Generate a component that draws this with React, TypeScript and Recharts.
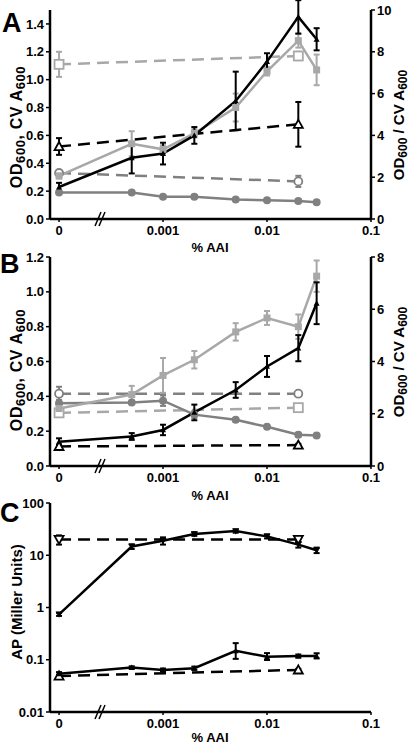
import React from "react"
import { LineChart, Line, XAxis, YAxis, ErrorBar, ReferenceDot } from "recharts"

// x values (% AAI); 0 is drawn one decade below 0.001
const conc = [0, 0.0005, 0.001, 0.002, 0.005, 0.01, 0.02, 0.03]
const ctrlConc = [0, 0.02]
const xTicks = [0, 0.001, 0.01, 0.1]
const xTickLabels = ["0", "0.001", "0.01", "0.1"]

// panel A
const aCv = [0.31, 0.54, 0.5, 0.615, 0.8, 1.06, 1.28, 1.07]
const aCvErr = [0.02, 0.09, 0.03, 0.03, 0.1, 0.03, 0.05, 0.11]
const aOd = [0.19, 0.19, 0.16, 0.16, 0.14, 0.135, 0.13, 0.12]
const aOdErr = [0.01, 0.01, 0.01, 0.01, 0.01, 0.01, 0.01, 0.01]
const aRatio = [1.53, 2.93, 3.13, 4.0, 5.65, 7.53, 9.67, 8.6]
const aRatioErr = [0.2, 0.75, 0.52, 0.4, 1.4, 0.4, 0.8, 0.53]
const aCtrlCv = [1.11, 1.17]
const aCtrlCvErr = [0.09, 0.03]
const aCtrlOd = [0.33, 0.27]
const aCtrlOdErr = [0.02, 0.04]
const aCtrlRatio = [3.47, 4.53]
const aCtrlRatioErr = [0.4, 1.07]

// panel B
const bCv = [0.33, 0.41, 0.52, 0.61, 0.77, 0.85, 0.8, 1.09]
const bCvErr = [0.02, 0.05, 0.1, 0.05, 0.05, 0.04, 0.07, 0.09]
const bOd = [0.36, 0.365, 0.375, 0.295, 0.265, 0.225, 0.18, 0.175]
const bOdErr = [0.02, 0.01, 0.03, 0.02, 0.01, 0.01, 0.01, 0.01]
const bRatio = [0.93, 1.13, 1.38, 2.05, 2.91, 3.81, 4.51, 6.23]
const bRatioErr = [0.13, 0.13, 0.2, 0.3, 0.3, 0.4, 0.5, 0.8]
const bCtrlOd = [0.415, 0.415]
const bCtrlOdErr = [0.04, 0.01]
const bCtrlCv = [0.305, 0.335]
const bCtrlCvErr = [0.01, 0.01]
const bCtrlRatio = [0.75, 0.8]
const bCtrlRatioErr = [0.05, 0.05]

// panel C (AP, Miller units) - errors as [below, above]
const cHigh = [0.74, 14.7, 19.0, 25.5, 29, 23, 16, 12.5]
const cHighErr = [[0.05, 0.05], [1.5, 1.5], [3, 3], [2, 2], [2, 2], [2, 2], [2, 2], [1.5, 1.5]]
const cHighCtrl = [20, 20]
const cHighCtrlErr = [[4, 4], [2, 2]]
const cLow = [0.054, 0.071, 0.064, 0.069, 0.148, 0.114, 0.118, 0.118]
const cLowErr = [[0.004, 0.004], [0.004, 0.004], [0.004, 0.004], [0.005, 0.005], [0.044, 0.06], [0.015, 0.02], [0.008, 0.008], [0.012, 0.015]]
const cLowCtrl = [0.049, 0.064]
const cLowCtrlErr = [[0.003, 0.003], [0.003, 0.003]]

const LIGHT = "#a8a8a8"
const DARK = "#808080"
const BLACK = "#000"
const FONT = "'Liberation Sans', Arial, sans-serif"
const BREAK_AT = -3.606

const xPos = (c: number) => (c === 0 ? -4 : Math.log10(c))
const xTickPos = xTicks.map(xPos)
const xFmt = (v: number) => {
  let best = 0
  xTickPos.forEach((p, i) => {
    if (Math.abs(p - v) < Math.abs(xTickPos[best] - v)) best = i
  })
  return xTickLabels[best]
}

const rows = (xs: number[], ys: number[], es: any[]) =>
  xs.map((c, i) => ({ x: xPos(c), y: ys[i], e: es[i] }))

type Kind = "square" | "circle" | "tri" | "triDown"

const makeDot = (kind: Kind, color: string, open: boolean, size: number) => (p: any) => {
  const { cx, cy, index } = p
  if (cx == null || cy == null) return <g key={index} />
  const fill = open ? "#fff" : color
  const sw = open ? 1.8 : 0
  const h = size / 2
  let el
  if (kind === "square") el = <rect x={cx - h} y={cy - h} width={size} height={size} />
  else if (kind === "circle") el = <circle cx={cx} cy={cy} r={h} />
  else if (kind === "tri")
    el = <polygon points={`${cx},${cy - h} ${cx + h},${cy + h * 0.8} ${cx - h},${cy + h * 0.8}`} />
  else el = <polygon points={`${cx},${cy + h} ${cx + h},${cy - h * 0.8} ${cx - h},${cy - h * 0.8}`} />
  return (
    <g key={index} fill={fill} stroke={color} strokeWidth={sw}>
      {el}
    </g>
  )
}

const series = (
  key: string,
  data: any[],
  axis: string,
  color: string,
  dashed: boolean,
  kind: Kind,
  open: boolean,
  size: number
) => (
  <Line
    key={key}
    data={data}
    dataKey="y"
    yAxisId={axis}
    stroke={color}
    strokeWidth={2.5}
    strokeDasharray={dashed ? "12 7" : undefined}
    dot={makeDot(kind, color, open, size)}
    activeDot={false}
    isAnimationActive={false}
  >
    <ErrorBar dataKey="e" width={3} strokeWidth={2} stroke={color} isAnimationActive={false} />
  </Line>
)

const tickStyle = { fontSize: 13, fontWeight: 700, fill: "#000", fontFamily: FONT }
const axisLine = { stroke: "#000", strokeWidth: 2.5 }
const tickLine = { stroke: "#000", strokeWidth: 1.5 }

const breakMark = (p: any) => (
  <g stroke="#000" strokeWidth={1.5}>
    <line x1={p.cx - 5} y1={p.cy + 7} x2={p.cx + 1} y2={p.cy - 7} />
    <line x1={p.cx - 1} y1={p.cy + 7} x2={p.cx + 5} y2={p.cy - 7} />
  </g>
)

const xAxis = (height: number) => (
  <XAxis
    type="number"
    dataKey="x"
    domain={[-4.087, -1]}
    ticks={xTickPos}
    tickFormatter={xFmt}
    allowDataOverflow
    height={height}
    axisLine={axisLine}
    tickLine={tickLine}
    tickSize={3}
    tickMargin={4}
    tick={tickStyle}
    interval={0}
  />
)

const leftAxis = (domain: number[], ticks: number[], scale: any, fmt: (v: number) => string) => (
  <YAxis
    yAxisId="left"
    orientation="left"
    type="number"
    scale={scale}
    domain={domain}
    ticks={ticks}
    tickFormatter={fmt}
    allowDataOverflow
    width={50}
    axisLine={axisLine}
    tickLine={tickLine}
    tickSize={4}
    tickMargin={2}
    tick={tickStyle}
    interval={0}
  />
)

const rightAxis = (domain: number[], ticks: number[]) => (
  <YAxis
    yAxisId="right"
    orientation="right"
    type="number"
    domain={domain}
    ticks={ticks}
    allowDataOverflow
    width={39}
    axisLine={axisLine}
    tickLine={tickLine}
    tickSize={4}
    tickMargin={2}
    tick={{ ...tickStyle, textAnchor: "start" }}
    interval={0}
  />
)

function PanelA() {
  return (
    <LineChart width={410} height={260} margin={{ top: 10, right: 0, bottom: 0, left: 0 }}>
      {xAxis(41)}
      {leftAxis([0, 1.5], [0, 0.2, 0.4, 0.6, 0.8, 1.0, 1.2, 1.4], "linear", (v) => v.toFixed(1))}
      {rightAxis([0, 10], [0, 2, 4, 6, 8, 10])}
      {series("acc", rows(ctrlConc, aCtrlCv, aCtrlCvErr), "left", LIGHT, true, "square", true, 9)}
      {series("aco", rows(ctrlConc, aCtrlOd, aCtrlOdErr), "left", DARK, true, "circle", true, 8)}
      {series("acr", rows(ctrlConc, aCtrlRatio, aCtrlRatioErr), "right", BLACK, true, "tri", true, 9)}
      {series("aod", rows(conc, aOd, aOdErr), "left", DARK, false, "circle", false, 8)}
      {series("acv", rows(conc, aCv, aCvErr), "left", LIGHT, false, "square", false, 7)}
      {series("ar", rows(conc, aRatio, aRatioErr), "right", BLACK, false, "tri", false, 6)}
      <ReferenceDot x={BREAK_AT} y={0} yAxisId="left" ifOverflow="visible" shape={breakMark} />
    </LineChart>
  )
}

function PanelB() {
  return (
    <LineChart width={410} height={260} margin={{ top: 10, right: 0, bottom: 0, left: 0 }}>
      {xAxis(41)}
      {leftAxis([0, 1.2], [0, 0.2, 0.4, 0.6, 0.8, 1.0, 1.2], "linear", (v) => v.toFixed(1))}
      {rightAxis([0, 8], [0, 2, 4, 6, 8])}
      {series("bco", rows(ctrlConc, bCtrlOd, bCtrlOdErr), "left", DARK, true, "circle", true, 8)}
      {series("bcc", rows(ctrlConc, bCtrlCv, bCtrlCvErr), "left", LIGHT, true, "square", true, 9)}
      {series("bcr", rows(ctrlConc, bCtrlRatio, bCtrlRatioErr), "right", BLACK, true, "tri", true, 9)}
      {series("bod", rows(conc, bOd, bOdErr), "left", DARK, false, "circle", false, 8)}
      {series("bcv", rows(conc, bCv, bCvErr), "left", LIGHT, false, "square", false, 7)}
      {series("br", rows(conc, bRatio, bRatioErr), "right", BLACK, false, "tri", false, 6)}
      <ReferenceDot x={BREAK_AT} y={0} yAxisId="left" ifOverflow="visible" shape={breakMark} />
    </LineChart>
  )
}

function PanelC() {
  return (
    <LineChart width={410} height={253} margin={{ top: 10, right: 39, bottom: 0, left: 0 }}>
      {xAxis(34)}
      {leftAxis([0.01, 100], [0.01, 0.1, 1, 10, 100], "log", (v) => String(v))}
      {series("chc", rows(ctrlConc, cHighCtrl, cHighCtrlErr), "left", BLACK, true, "triDown", true, 9)}
      {series("clc", rows(ctrlConc, cLowCtrl, cLowCtrlErr), "left", BLACK, true, "tri", true, 9)}
      {series("ch", rows(conc, cHigh, cHighErr), "left", BLACK, false, "triDown", false, 7)}
      {series("cl", rows(conc, cLow, cLowErr), "left", BLACK, false, "tri", false, 6)}
      <ReferenceDot x={BREAK_AT} y={0.01} yAxisId="left" ifOverflow="visible" shape={breakMark} />
    </LineChart>
  )
}

const RotLabel = ({
  x,
  y,
  parts,
  size = 15,
  subSize = 11,
  spacing = 0,
}: {
  x: number
  y: number
  parts: [string, boolean][]
  size?: number
  subSize?: number
  spacing?: number
}) => (
  <text
    transform={`translate(${x},${y}) rotate(-90)`}
    textAnchor="middle"
    fontSize={size}
    fontWeight={700}
    fontFamily={FONT}
    letterSpacing={spacing}
  >
    {parts.map(([t, sub], i) => {
      const prevSub = i > 0 && parts[i - 1][1]
      const dy = sub && !prevSub ? 2.5 : !sub && prevSub ? -2.5 : 0
      return (
        <tspan key={i} fontSize={sub ? subSize : size} dy={dy}>
          {t}
        </tspan>
      )
    })}
  </text>
)

const leftParts: [string, boolean][] = [["OD", false], ["600", true], [", CV A", false], ["600", true]]
const rightParts: [string, boolean][] = [["OD", false], ["600", true], [" / CV A", false], ["600", true]]

export default function App() {
  return (
    <div
      style={{
        position: "absolute",
        left: 0,
        top: 0,
        width: 410,
        height: 746,
        background: "#fff",
        overflow: "hidden",
        fontFamily: FONT,
      }}
    >
      <div style={{ position: "absolute", left: 0, top: 0 }}>
        <PanelA />
      </div>
      <div style={{ position: "absolute", left: 0, top: 247 }}>
        <PanelB />
      </div>
      <div style={{ position: "absolute", left: 0, top: 493 }}>
        <PanelC />
      </div>
      <svg
        width={410}
        height={746}
        style={{ position: "absolute", left: 0, top: 0, pointerEvents: "none" }}
      >
        <g fontFamily={FONT} fontWeight={700}>
          <text x={2} y={32} fontSize={27}>A</text>
          <text x={0} y={273} fontSize={27}>B</text>
          <text x={0} y={522} fontSize={27}>C</text>
          <text x={210} y={252} fontSize={13} textAnchor="middle">% AAI</text>
          <text x={210} y={500} fontSize={13} textAnchor="middle">% AAI</text>
          <text x={210} y={742} fontSize={13} textAnchor="middle">% AAI</text>
        </g>
        <RotLabel x={22} y={127} parts={leftParts} size={16} subSize={13} spacing={0.6} />
        <RotLabel x={404} y={125} parts={rightParts} size={15} subSize={12} />
        <RotLabel x={22} y={370} parts={leftParts} size={16} subSize={13} spacing={0.6} />
        <RotLabel x={404} y={362} parts={rightParts} size={15} subSize={12} />
        <RotLabel x={22} y={602} parts={[["AP (Miller Units)", false]]} />
      </svg>
    </div>
  )
}
